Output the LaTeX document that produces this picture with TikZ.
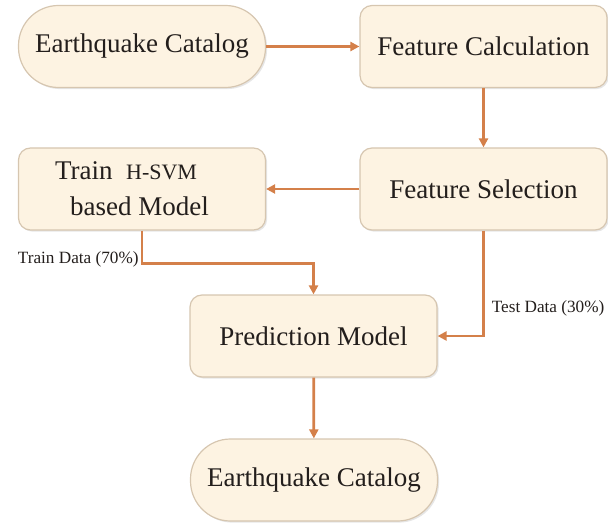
\documentclass[tikz,border=0pt]{standalone}
\usepackage{fontspec}
\setmainfont{Liberation Serif}
\usepackage{xcolor}
\usetikzlibrary{positioning, arrows.meta, shadows}

\definecolor{boxfill}{RGB}{253,243,226}
\definecolor{boxline}{RGB}{214,198,176}
\definecolor{flow}{RGB}{212,128,74}
\definecolor{ink}{RGB}{35,30,28}

\begin{document}
\begin{tikzpicture}[x=0.5pt, y=-0.5pt, >={Triangle[length=4.5pt, width=4.5pt]},
    block/.style={draw=boxline, fill=boxfill, line width=0.6pt, rounded corners=6pt,
        minimum width=123.5pt, minimum height=41pt, text=ink,
        font=\fontsize{13.5}{18}\selectfont,
        drop shadow={shadow xshift=0.8pt, shadow yshift=-0.8pt, opacity=0.2}},
    terminal/.style={block, rounded corners=20pt},
    flowline/.style={draw=flow, line width=1.4pt},
    note/.style={text=ink, font=\fontsize{8.6}{10}\selectfont, inner sep=1pt}]

    \useasboundingbox (0,0) rectangle (608,523);

    \node[terminal] (catalogIn) at (142,46.5) {Earthquake Catalog};
    \node[block] (featCalc) at (483.5,46.5) {Feature Calculation};
    \node[block] (featSel) at (483.5,189) {Feature Selection};
    \node[block, align=left] (trainSVM) at (142,189)
        {Train~~{\fontsize{11}{13}\selectfont H-SVM}\\\hspace*{7.5pt}based Model\hspace*{10pt}};
    \node[block] (predModel) at (313.5,336) {Prediction Model};
    \node[terminal] (catalogOut) at (314,480) {Earthquake Catalog};

    \path[->, every edge/.style={flowline}]
    (catalogIn) edge (featCalc)
    (featCalc) edge (featSel)
    (featSel) edge (trainSVM)
    (predModel) edge (catalogOut);

    % split of the selected features
    \draw[->, flowline] (trainSVM.south) -- ++(0,33)
        node[note, anchor=east, yshift=2pt] {Train Data (70\%)} -| (predModel.north);
    \draw[->, flowline] (featSel.south) |-
        node[note, anchor=west, pos=0.37, xshift=2.5pt] {Test Data (30\%)} (predModel.east);
\end{tikzpicture}
\end{document}
